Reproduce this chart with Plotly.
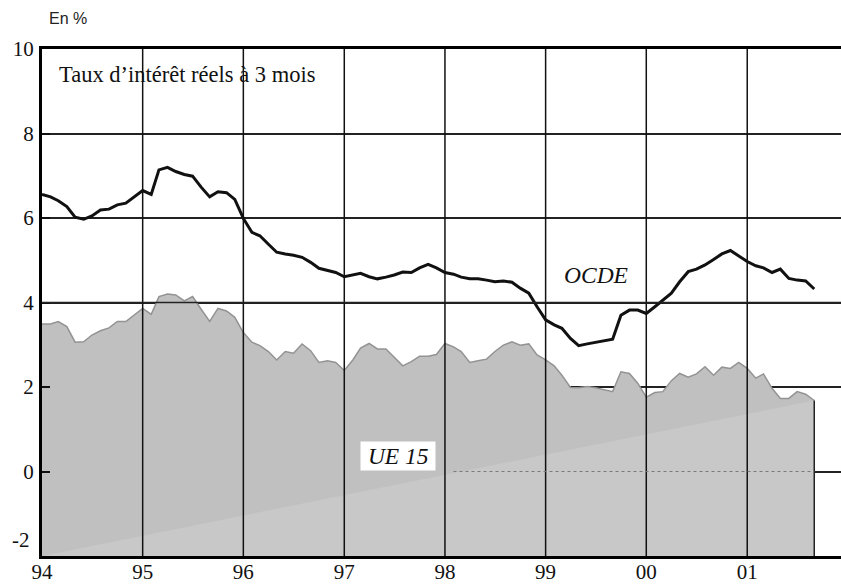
import pandas as pd
import plotly.graph_objects as go

# Monthly observations, January 1994 to September 2001
months = pd.date_range("1994-01-01", periods=93, freq="MS")

# Real 3-month interest rates, in %
ocde = [6.56, 6.50, 6.41, 6.27, 6.02, 5.97, 6.05, 6.19, 6.21, 6.31, 6.35, 6.50,
        6.65, 6.56, 7.14, 7.20, 7.10, 7.03, 6.99, 6.73, 6.50, 6.62, 6.60, 6.44,
        5.99, 5.66, 5.58, 5.38, 5.19, 5.15, 5.12, 5.07, 4.95, 4.81, 4.75, 4.71,
        4.61, 4.65, 4.69, 4.61, 4.56, 4.60, 4.65, 4.72, 4.71, 4.82, 4.90, 4.82,
        4.71, 4.67, 4.60, 4.56, 4.56, 4.53, 4.49, 4.51, 4.48, 4.34, 4.22, 3.90,
        3.59, 3.47, 3.39, 3.15, 2.98, 3.02, 3.06, 3.10, 3.13, 3.70, 3.82, 3.82,
        3.74, 3.90, 4.06, 4.22, 4.49, 4.73, 4.79, 4.89, 5.02, 5.15, 5.23, 5.10,
        4.97, 4.87, 4.82, 4.71, 4.79, 4.57, 4.53, 4.51, 4.32]

ue15 = [3.49, 3.49, 3.55, 3.43, 3.06, 3.07, 3.23, 3.33, 3.40, 3.55, 3.55, 3.70,
        3.86, 3.72, 4.14, 4.20, 4.18, 4.04, 4.14, 3.84, 3.55, 3.86, 3.80, 3.65,
        3.29, 3.06, 2.98, 2.84, 2.64, 2.84, 2.80, 3.02, 2.86, 2.58, 2.62, 2.58,
        2.39, 2.64, 2.92, 3.03, 2.90, 2.90, 2.70, 2.50, 2.60, 2.73, 2.73, 2.77,
        3.03, 2.95, 2.84, 2.58, 2.62, 2.66, 2.84, 2.99, 3.07, 2.99, 3.02, 2.76,
        2.64, 2.50, 2.28, 1.99, 1.98, 2.01, 1.98, 1.93, 1.89, 2.36, 2.32, 2.09,
        1.76, 1.87, 1.89, 2.15, 2.32, 2.23, 2.31, 2.48, 2.28, 2.47, 2.44, 2.58,
        2.44, 2.21, 2.31, 1.97, 1.73, 1.73, 1.89, 1.83, 1.68]

year_ticks = ["1994-01-01", "1995-01-01", "1996-01-01", "1997-01-01",
              "1998-01-01", "1999-01-01", "2000-01-01", "2001-01-01"]
year_labels = ["94", "95", "96", "97", "98", "99", "00", "01"]
y_ticks = [-2, 0, 2, 4, 6, 8, 10]
y_labels = ["", "0", "2", "4", "6", "8", "10"]

Y_MIN, Y_MAX = -2, 10
X_END = "2001-12-07"
SERIF = "Liberation Serif, Times New Roman, serif"

fig = go.Figure()

# Baseline at the bottom of the axis so the area fills down to -2
fig.add_trace(go.Scatter(x=months, y=[Y_MIN] * len(months), mode="lines",
                         line=dict(width=0), hoverinfo="skip", showlegend=False))
fig.add_trace(go.Scatter(x=months, y=ue15, mode="lines", fill="tonexty",
                         fillcolor="#c0c0c0", line=dict(color="#939393", width=1.5),
                         name="UE 15", showlegend=False))
# Lighter wedge below the diagonal from the start to the last UE 15 value
fig.add_trace(go.Scatter(x=[months[0], months[-1], months[-1], months[0]],
                         y=[Y_MIN, ue15[-1], Y_MIN, Y_MIN], mode="lines",
                         fill="toself", fillcolor="#c8c8c8", line=dict(width=0),
                         hoverinfo="skip", showlegend=False))
# Right edge of the area
fig.add_trace(go.Scatter(x=[months[-1], months[-1]], y=[Y_MIN, ue15[-1]], mode="lines",
                         line=dict(color="#222222", width=1.5),
                         hoverinfo="skip", showlegend=False))
fig.add_trace(go.Scatter(x=months, y=ocde, mode="lines",
                         line=dict(color="#111111", width=3),
                         name="OCDE", showlegend=False))

shapes = []
# Vertical year lines, drawn over the shaded area
for t in year_ticks[1:]:
    shapes.append(dict(type="line", xref="x", yref="y", x0=t, x1=t, y0=Y_MIN, y1=Y_MAX,
                       line=dict(color="#111111", width=1.5), layer="above"))
# The 4 % line stays visible across the shaded area
shapes.append(dict(type="line", xref="paper", yref="y", x0=0, x1=1, y0=4, y1=4,
                   line=dict(color="#222222", width=1.5), layer="above"))
# Faint dotted zero line inside the area
shapes.append(dict(type="line", xref="x", yref="y", x0="1998-02-01", x1=months[-1],
                   y0=0, y1=0, line=dict(color="#7a7a7a", width=1, dash="dot"),
                   layer="above"))

fig.update_layout(
    width=841, height=587,
    margin=dict(l=42, r=0, t=49, b=31),
    paper_bgcolor="white", plot_bgcolor="white",
    shapes=shapes,
    xaxis=dict(
        type="date", range=[year_ticks[0], X_END],
        tickvals=year_ticks, ticktext=year_labels, ticks="",
        showgrid=False, zeroline=False,
        showline=True, linecolor="#000000", linewidth=3, mirror=True,
        tickfont=dict(family=SERIF, size=21, color="#111111"),
        ticklabelstandoff=-5,
    ),
    yaxis=dict(
        range=[Y_MIN, Y_MAX], tickvals=y_ticks, ticktext=y_labels,
        ticks="inside", ticklen=8, tickwidth=1.5, tickcolor="#111111",
        showgrid=True, gridcolor="#222222", gridwidth=1.5, zeroline=False,
        showline=True, linecolor="#000000", linewidth=3, mirror=False,
        tickfont=dict(family=SERIF, size=21, color="#111111"),
        ticklabelstandoff=1,
    ),
    annotations=[
        dict(text="En %", xref="paper", yref="paper", x=0.006, y=1.061,
             xanchor="left", yanchor="middle", showarrow=False,
             font=dict(family="Liberation Sans, Arial, sans-serif", size=16, color="#222222")),
        dict(text="Taux d\u2019intérêt réels à 3 mois", xref="paper", yref="paper",
             x=0.019, y=0.949, xanchor="left", yanchor="middle", showarrow=False,
             font=dict(family=SERIF, size=22.5, color="#111111")),
        dict(text="<i>OCDE</i>", xref="x", yref="y", x="1999-07-01", y=4.65,
             xanchor="center", yanchor="middle", showarrow=False,
             font=dict(family=SERIF, size=23.5, color="#111111")),
        dict(text="&nbsp;<i>UE 15</i>&nbsp;", xref="x", yref="y", x="1997-07-15", y=0.36,
             xanchor="center", yanchor="middle", showarrow=False,
             bgcolor="white", borderpad=1,
             font=dict(family=SERIF, size=23.5, color="#111111")),
        dict(text="-2", xref="paper", yref="paper", x=-0.0125, y=0.032,
             xanchor="right", yanchor="middle", showarrow=False,
             font=dict(family=SERIF, size=21, color="#111111")),
    ],
)

fig.write_html("out.html")
